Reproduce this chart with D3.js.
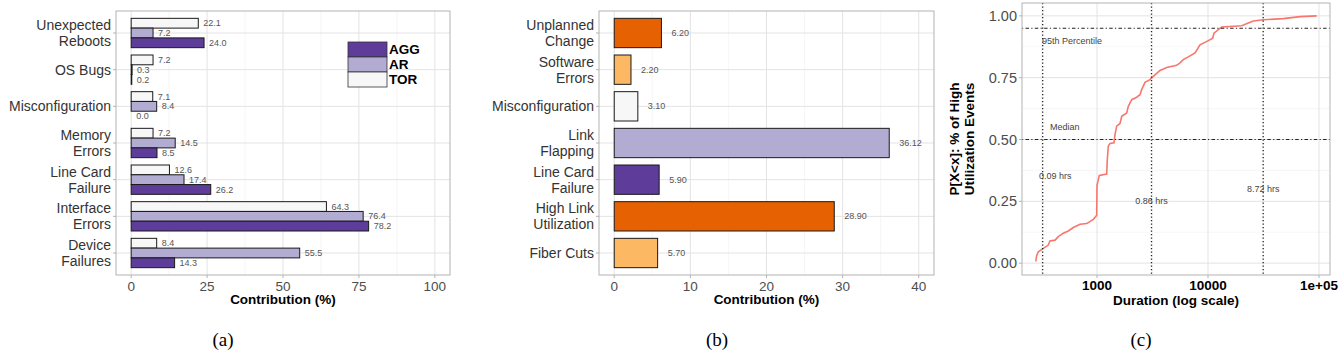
<!DOCTYPE html>
<html>
<head>
<meta charset="utf-8">
<script src="https://cdn.jsdelivr.net/npm/d3@7"></script>
<style>
body { margin: 0; background: #fff; }
text { font-family: "Liberation Sans", Arial, sans-serif; }
</style>
</head>
<body>
<script>
// ---- data ----
var causesA = ["Unexpected\nReboots", "OS Bugs", "Misconfiguration", "Memory\nErrors",
               "Line Card\nFailure", "Interface\nErrors", "Device\nFailures"];
var torVals = [22.1, 7.2, 7.1, 7.2, 12.6, 64.3, 8.4];
var arVals  = [7.2, 0.3, 8.4, 14.5, 17.4, 76.4, 55.5];
var aggVals = [24.0, 0.2, 0.0, 8.5, 26.2, 78.2, 14.3];
var tiers = ["AGG", "AR", "TOR"];
var ticksA = [0, 25, 50, 75, 100];

var causesB = ["Unplanned\nChange", "Software\nErrors", "Misconfiguration", "Link\nFlapping",
               "Line Card\nFailure", "High Link\nUtilization", "Fiber Cuts"];
var valsB = [6.20, 2.20, 3.10, 36.12, 5.90, 28.90, 5.70];
var ticksB = [0, 10, 20, 30, 40];

// ecdf of high utilization durations (seconds)
var durSec = [281, 286, 296, 318, 364, 377, 419, 448, 497, 551, 611, 703, 808, 927, 994, 1000, 1049,
              1223, 1238, 1264, 1310, 1423, 1452, 1504, 1611, 1670, 1852, 1914, 2055, 2279, 2440, 2527,
              2706, 3001, 3216, 3695, 4246, 5224, 5597, 5987, 6647, 7640, 8472, 10060, 11020, 11320,
              13280, 20130, 23080, 25600, 31490, 47660, 67450, 95300];
var cdfVals = [0.007, 0.03, 0.046, 0.056, 0.073, 0.090, 0.093, 0.107, 0.121, 0.130, 0.144, 0.157, 0.160,
               0.177, 0.194, 0.315, 0.355, 0.360, 0.419, 0.473, 0.484, 0.487, 0.520, 0.554, 0.565, 0.594,
               0.607, 0.634, 0.661, 0.671, 0.681, 0.702, 0.731, 0.742, 0.755, 0.779, 0.791, 0.800, 0.810,
               0.823, 0.834, 0.850, 0.883, 0.900, 0.910, 0.930, 0.955, 0.960, 0.971, 0.979, 0.984, 0.989,
               0.997, 1.0];
var ticksCx = [1000, 10000, 100000];
var tickLabelsCx = ["1000", "10000", "1e+05"];
var ticksCy = [0, 0.25, 0.5, 0.75, 1];
var markSec = [324, 3096, 31392];
var markProb = [0.5, 0.95];
var notes = [
  {t: "95th Percentile", x: 596, y: 0.90},
  {t: "Median", x: 513, y: 0.552},
  {t: "0.09 hrs", x: 420, y: 0.351},
  {t: "0.86 hrs", x: 3096, y: 0.25},
  {t: "8.72 hrs", x: 31392, y: 0.302}
];

var fillTier = {AGG: "#5e3c99", AR: "#b2abd2", TOR: "#f7f7f7"};
var fillB = ["#e66101", "#fdb863", "#f7f7f7", "#b2abd2", "#5e3c99", "#e66101", "#fdb863"];

var gridCol = "#e3e3e3", minorCol = "#f0f0f0", borderCol = "#b3b3b3";

var svg = d3.select("body").append("svg")
  .attr("width", 1344)
  .attr("height", 356);

// multi-line category labels
function catLabel(g, y, xr, label, size) {
  var lines = label.split("\n");
  var lh = 16;
  var t = g.append("text")
    .attr("text-anchor", "end")
    .attr("font-size", size)
    .attr("fill", "#333");
  lines.forEach(function(l, i) {
    t.append("tspan")
      .attr("x", xr)
      .attr("y", y + (i - (lines.length - 1) / 2) * lh)
      .attr("dy", "0.35em")
      .text(l);
  });
}

function hbarFrame(x, y, ticks, minor, cats) {
  var g = svg.append("g");
  var x0 = x.range()[0], x1 = x.range()[1], y0 = y.range()[0], y1 = y.range()[1];
  g.selectAll(".mn").data(minor).enter().append("line")
    .attr("x1", function(d) { return x(d); }).attr("x2", function(d) { return x(d); })
    .attr("y1", y0).attr("y2", y1)
    .attr("stroke", minorCol).attr("stroke-width", 0.6);
  g.selectAll(".mj").data(ticks).enter().append("line")
    .attr("x1", function(d) { return x(d); }).attr("x2", function(d) { return x(d); })
    .attr("y1", y0).attr("y2", y1)
    .attr("stroke", gridCol).attr("stroke-width", 1);
  g.selectAll(".hz").data(cats).enter().append("line")
    .attr("x1", x0).attr("x2", x1)
    .attr("y1", function(d) { return y(d); }).attr("y2", function(d) { return y(d); })
    .attr("stroke", gridCol).attr("stroke-width", 1);
  // ticks
  g.selectAll(".yt").data(cats).enter().append("line")
    .attr("x1", x0 - 3).attr("x2", x0)
    .attr("y1", function(d) { return y(d); }).attr("y2", function(d) { return y(d); })
    .attr("stroke", borderCol);
  g.selectAll(".xt").data(ticks).enter().append("line")
    .attr("x1", function(d) { return x(d); }).attr("x2", function(d) { return x(d); })
    .attr("y1", y1).attr("y2", y1 + 3)
    .attr("stroke", borderCol);
  g.selectAll(".xl").data(ticks).enter().append("text")
    .attr("x", function(d) { return x(d); })
    .attr("y", y1 + 11)
    .attr("dy", "0.35em")
    .attr("text-anchor", "middle")
    .attr("font-size", 13.5)
    .attr("fill", "#4d4d4d")
    .text(function(d) { return d; });
  cats.forEach(function(c) { catLabel(g, y(c), x0 - 5, c, 14); });
  g.append("text")
    .attr("x", (x0 + x1) / 2)
    .attr("y", y1 + 29)
    .attr("text-anchor", "middle")
    .attr("font-size", 13.5)
    .attr("font-weight", "bold")
    .text("Contribution (%)");
  return g;
}

function border(x0, x1, y0, y1) {
  svg.append("rect")
    .attr("x", x0).attr("y", y0)
    .attr("width", x1 - x0).attr("height", y1 - y0)
    .attr("fill", "none").attr("stroke", borderCol).attr("stroke-width", 1);
}

// ---- panel (a) ----
var ax = d3.scaleLinear().domain([-5, 105]).range([116, 450]);
var ay = d3.scalePoint().domain(causesA).range([11, 275]).padding(0.6);
var aSub = d3.scaleBand().domain(["TOR", "AR", "AGG"])
  .range([-0.4 * ay.step(), 0.4 * ay.step()]);

hbarFrame(ax, ay, ticksA, [12.5, 37.5, 62.5, 87.5], causesA);

var seriesA = {TOR: torVals, AR: arVals, AGG: aggVals};
["TOR", "AR", "AGG"].forEach(function(t) {
  var rows = causesA.map(function(c, i) { return {c: c, v: seriesA[t][i]}; });
  svg.append("g").selectAll("rect").data(rows).enter().append("rect")
    .attr("x", ax(0))
    .attr("y", function(d) { return ay(d.c) + aSub(t); })
    .attr("width", function(d) { return ax(d.v) - ax(0); })
    .attr("height", aSub.bandwidth())
    .attr("fill", fillTier[t])
    .attr("stroke", "#1a1a1a")
    .attr("stroke-width", 1);
  svg.append("g").selectAll("text").data(rows).enter().append("text")
    .attr("x", function(d) { return ax(d.v) + 5; })
    .attr("y", function(d) { return ay(d.c) + aSub(t) + aSub.bandwidth() / 2; })
    .attr("dy", "0.35em")
    .attr("font-size", 9)
    .attr("fill", "#555")
    .text(function(d) { return d.v.toFixed(1); });
});
border(116, 450, 11, 275);

// legend
var leg = svg.append("g").attr("transform", "translate(348,42)");
tiers.forEach(function(t, i) {
  leg.append("rect")
    .attr("x", 0).attr("y", i * 15)
    .attr("width", 39).attr("height", 15)
    .attr("fill", fillTier[t])
    .attr("stroke", "#333").attr("stroke-width", 0.8);
  leg.append("text")
    .attr("x", 41).attr("y", i * 15 + 7.5)
    .attr("dy", "0.35em")
    .attr("font-size", 13.5)
    .attr("font-weight", "bold")
    .text(t);
});

// ---- panel (b) ----
var bx = d3.scaleLinear().domain([-2, 42]).range([599, 934]);
var by = d3.scalePoint().domain(causesB).range([11, 275]).padding(0.6);
var bw = 0.8 * by.step();

hbarFrame(bx, by, ticksB, [5, 15, 25, 35], causesB);

var rowsB = causesB.map(function(c, i) { return {c: c, v: valsB[i], f: fillB[i]}; });
svg.append("g").selectAll("rect").data(rowsB).enter().append("rect")
  .attr("x", bx(0))
  .attr("y", function(d) { return by(d.c) - bw / 2; })
  .attr("width", function(d) { return bx(d.v) - bx(0); })
  .attr("height", bw)
  .attr("fill", function(d) { return d.f; })
  .attr("stroke", "#1a1a1a")
  .attr("stroke-width", 1);
svg.append("g").selectAll("text").data(rowsB).enter().append("text")
  .attr("x", function(d) { return bx(d.v) + 10; })
  .attr("y", function(d) { return by(d.c); })
  .attr("dy", "0.35em")
  .attr("font-size", 9)
  .attr("fill", "#555")
  .text(function(d) { return d.v.toFixed(2); });
border(599, 934, 11, 275);

// ---- panel (c) ----
var cx = d3.scaleLog().domain([Math.pow(10, 2.3243), Math.pow(10, 5.099)]).range([1022, 1330]);
var cy = d3.scaleLinear().domain([-0.05, 1.05]).range([275.5, 3.5]);
var gc = svg.append("g");

var minorX = [Math.pow(10, 2.5), Math.pow(10, 3.5), Math.pow(10, 4.5)];
var minorY = [0.125, 0.375, 0.625, 0.875];
gc.selectAll(".mx").data(minorX).enter().append("line")
  .attr("x1", function(d) { return cx(d); }).attr("x2", function(d) { return cx(d); })
  .attr("y1", 3).attr("y2", 275)
  .attr("stroke", minorCol).attr("stroke-width", 0.6);
gc.selectAll(".my").data(minorY).enter().append("line")
  .attr("x1", 1022).attr("x2", 1330)
  .attr("y1", function(d) { return cy(d); }).attr("y2", function(d) { return cy(d); })
  .attr("stroke", minorCol).attr("stroke-width", 0.6);
gc.selectAll(".gx").data(ticksCx).enter().append("line")
  .attr("x1", function(d) { return cx(d); }).attr("x2", function(d) { return cx(d); })
  .attr("y1", 3).attr("y2", 275)
  .attr("stroke", gridCol);
gc.selectAll(".gy").data(ticksCy).enter().append("line")
  .attr("x1", 1022).attr("x2", 1330)
  .attr("y1", function(d) { return cy(d); }).attr("y2", function(d) { return cy(d); })
  .attr("stroke", gridCol);

var pts = durSec.map(function(d, i) { return [d, cdfVals[i]]; });
gc.append("path")
  .datum(pts)
  .attr("fill", "none")
  .attr("stroke", "#f8766d")
  .attr("stroke-width", 1.6)
  .attr("d", d3.line()
    .x(function(d) { return cx(d[0]); })
    .y(function(d) { return cy(d[1]); }));

gc.selectAll(".vm").data(markSec).enter().append("line")
  .attr("x1", function(d) { return cx(d); }).attr("x2", function(d) { return cx(d); })
  .attr("y1", 3).attr("y2", 275)
  .attr("stroke", "#222").attr("stroke-width", 1.3)
  .attr("stroke-dasharray", "1.2,2.3");
gc.selectAll(".hm").data(markProb).enter().append("line")
  .attr("x1", 1022).attr("x2", 1330)
  .attr("y1", function(d) { return cy(d); }).attr("y2", function(d) { return cy(d); })
  .attr("stroke", "#222").attr("stroke-width", 1.1)
  .attr("stroke-dasharray", "1.2,2.3,3.5,2.3");

gc.selectAll(".nt").data(notes).enter().append("text")
  .attr("x", function(d) { return cx(d.x); })
  .attr("y", function(d) { return cy(d.y); })
  .attr("dy", "0.35em")
  .attr("text-anchor", "middle")
  .attr("font-size", 9)
  .attr("fill", "#444")
  .text(function(d) { return d.t; });

// axes (c)
gc.selectAll(".ytc").data(ticksCy).enter().append("line")
  .attr("x1", 1019).attr("x2", 1022)
  .attr("y1", function(d) { return cy(d); }).attr("y2", function(d) { return cy(d); })
  .attr("stroke", borderCol);
gc.selectAll(".ylc").data(ticksCy).enter().append("text")
  .attr("x", 1017)
  .attr("y", function(d) { return cy(d); })
  .attr("dy", "0.35em")
  .attr("text-anchor", "end")
  .attr("font-size", 14.5)
  .attr("fill", "#4d4d4d")
  .text(function(d) { return d3.format(".2f")(d); });
gc.selectAll(".xtc").data(ticksCx).enter().append("line")
  .attr("x1", function(d) { return cx(d); }).attr("x2", function(d) { return cx(d); })
  .attr("y1", 275).attr("y2", 278)
  .attr("stroke", borderCol);
gc.selectAll(".xlc").data(ticksCx).enter().append("text")
  .attr("x", function(d) { return cx(d); })
  .attr("y", 285)
  .attr("dy", "0.35em")
  .attr("text-anchor", "middle")
  .attr("font-size", 13.5)
  .attr("font-weight", "bold")
  .text(function(d, i) { return tickLabelsCx[i]; });
gc.append("text")
  .attr("x", 1176).attr("y", 305)
  .attr("text-anchor", "middle")
  .attr("font-size", 13.5)
  .attr("font-weight", "bold")
  .text("Duration (log scale)");
var yt = gc.append("text")
  .attr("transform", "translate(962,139) rotate(-90)")
  .attr("text-anchor", "middle")
  .attr("font-size", 13.5)
  .attr("font-weight", "bold");
yt.append("tspan").attr("x", 0).attr("y", -3).text("P[X<x]: % of High");
yt.append("tspan").attr("x", 0).attr("y", 12).text("Utilization Events");
border(1022, 1330, 3, 275);

// captions
var caps = [["(a)", 223], ["(b)", 717], ["(c)", 1141]];
caps.forEach(function(c) {
  svg.append("text")
    .attr("x", c[1]).attr("y", 346)
    .attr("text-anchor", "middle")
    .style("font-family", "'Liberation Serif', 'Times New Roman', serif")
    .attr("font-size", 19)
    .text(c[0]);
});
</script>
</body>
</html>
